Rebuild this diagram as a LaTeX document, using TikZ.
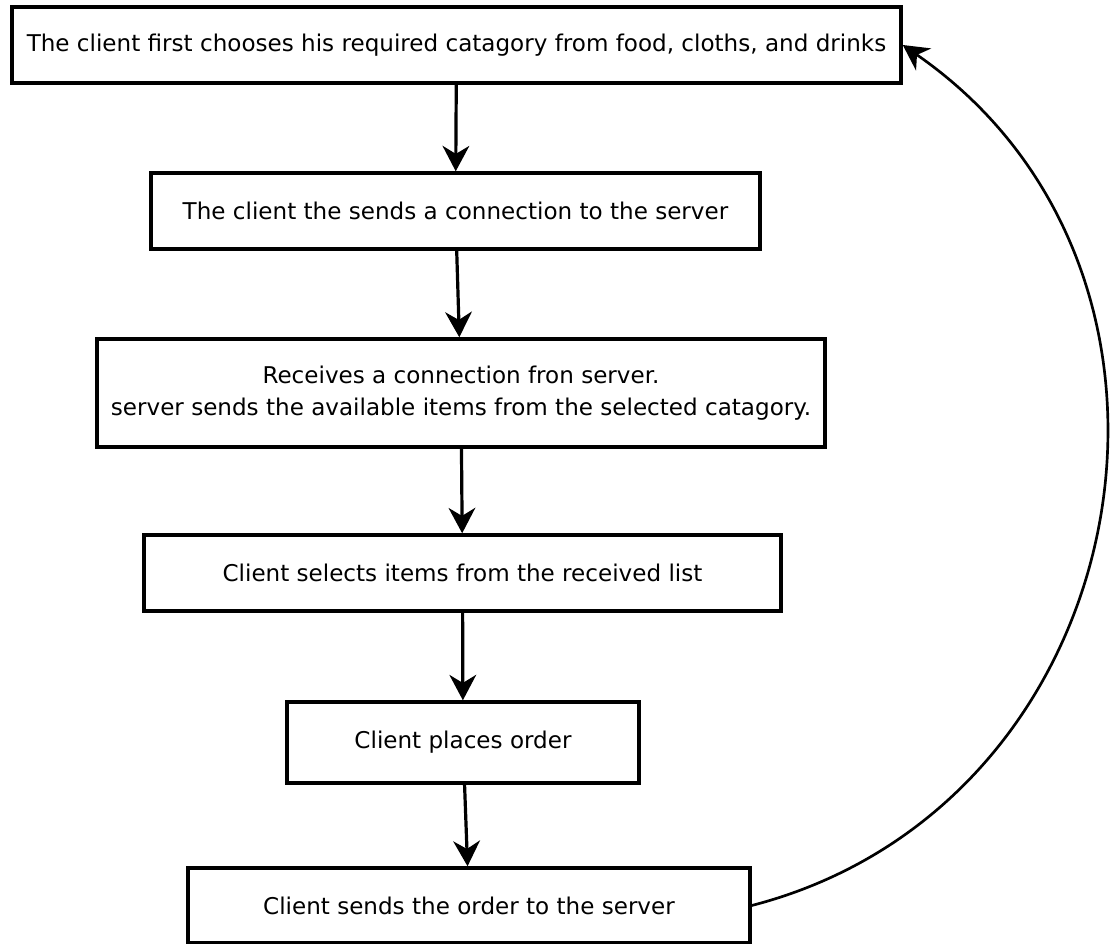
\documentclass[tikz,border=0pt]{standalone}
\usepackage{fontspec}
\setmainfont{DejaVu Sans}
\usetikzlibrary{arrows.meta}

\begin{document}
\begin{tikzpicture}[x=0.75pt, y=-0.75pt,
  stepbox/.style={draw, line width=2.6pt, fill=white, align=center,
    inner sep=0pt, font=\fontsize{17.3}{23.5}\selectfont},
  flow/.style={-{Stealth[length=19pt, width=20pt, inset=6pt]}, line width=2.4pt}]

  \newcommand\PX{0.75pt};

  \useasboundingbox (0,0) rectangle (1117,944);

  \node[stepbox, minimum width=889*\PX, minimum height=76*\PX] (choose) at (456.5,45)
  {The client first chooses his required catagory from food, cloths, and drinks};

  \node[stepbox, minimum width=609*\PX, minimum height=76*\PX] (connect) at (455.5,211)
  {The client the sends a connection to the server};

  \node[stepbox, minimum width=728*\PX, minimum height=108*\PX] (receive) at (461,393)
  {Receives a connection fron server.\\server sends the available items from the selected catagory.};

  \node[stepbox, minimum width=637*\PX, minimum height=76*\PX] (select) at (462.5,573)
  {Client selects items from the received list};

  \node[stepbox, minimum width=352*\PX, minimum height=81*\PX] (place) at (463,742.5)
  {Client places order};

  \node[stepbox, minimum width=562*\PX, minimum height=75*\PX] (send) at (469,905.5)
  {Client sends the order to the server};

  \draw[flow] (choose) -- (connect);
  \draw[flow] (connect) -- (receive);
  \draw[flow] (receive) -- (select);
  \draw[flow] (select) -- (place);
  \draw[flow] (place) -- (send);

  % back to the first step
  \draw[flow, line width=2pt] (send.east) .. controls (1140,805) and (1235,275) .. (choose.east);

\end{tikzpicture}
\end{document}
